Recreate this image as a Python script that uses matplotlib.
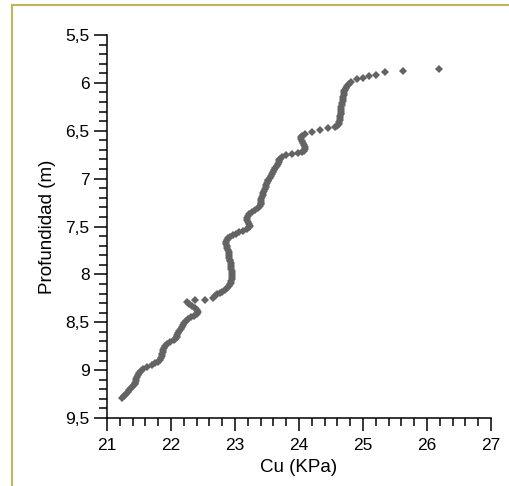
import matplotlib
matplotlib.use("Agg")
import matplotlib.pyplot as plt
from matplotlib.lines import Line2D
from matplotlib.ticker import MultipleLocator, FuncFormatter

plt.rcParams['font.family'] = ['Liberation Sans', 'DejaVu Sans']

# Cu (KPa) vs depth (m)
profundidad = [
    5.855, 5.873, 5.890, 5.915, 5.928, 5.946, 5.963, 5.988,
    6.01, 6.03, 6.05, 6.07, 6.09, 6.11, 6.13, 6.15, 6.17, 6.19, 6.21, 6.23,
    6.25, 6.27, 6.29, 6.31, 6.33, 6.35, 6.37, 6.39, 6.41, 6.43, 6.45,
    6.46, 6.475, 6.49, 6.51, 6.53, 6.55, 6.57, 6.59, 6.61, 6.63, 6.65, 6.67,
    6.69, 6.71, 6.725, 6.735, 6.745, 6.755, 6.77, 6.79, 6.81, 6.83, 6.85,
    6.87, 6.89, 6.91, 6.93, 6.95, 6.97, 6.99, 7.01, 7.03, 7.05, 7.07, 7.09,
    7.11, 7.13, 7.15, 7.17, 7.19, 7.21, 7.23, 7.25, 7.27, 7.29,
    7.31, 7.33, 7.35, 7.37, 7.39, 7.41, 7.43, 7.45, 7.47, 7.49, 7.51, 7.53,
    7.545, 7.56, 7.575, 7.59, 7.605, 7.625, 7.645, 7.665, 7.685, 7.705,
    7.725, 7.745, 7.765, 7.785, 7.805, 7.825, 7.845, 7.865, 7.885, 7.905,
    7.925, 7.945, 7.965, 7.985, 8.005, 8.025, 8.045, 8.065, 8.085, 8.105,
    8.125, 8.145, 8.165, 8.18, 8.195, 8.21, 8.225, 8.245,
    8.268, 8.268, 8.292,
    8.31, 8.33, 8.35, 8.37, 8.39, 8.41, 8.43, 8.45, 8.47, 8.49, 8.51, 8.53,
    8.55, 8.57, 8.59, 8.61, 8.63, 8.65, 8.67, 8.69, 8.71, 8.73, 8.75, 8.77,
    8.79, 8.81, 8.83, 8.85, 8.87, 8.89, 8.91, 8.93, 8.95, 8.97, 8.99, 9.01,
    9.03, 9.05, 9.07, 9.09, 9.11, 9.13, 9.15, 9.17, 9.19, 9.21, 9.23, 9.25,
    9.27, 9.29,
]
cu = [
    26.19, 25.63, 25.34, 25.21, 25.09, 25.00, 24.90, 24.82,
    24.78, 24.75, 24.73, 24.72, 24.71, 24.70, 24.70, 24.69, 24.69, 24.68, 24.67, 24.67,
    24.66, 24.66, 24.65, 24.65, 24.65, 24.64, 24.64, 24.64, 24.63, 24.62, 24.60,
    24.57, 24.46, 24.33, 24.20, 24.10, 24.05, 24.03, 24.03, 24.04, 24.06, 24.08, 24.09,
    24.09, 24.08, 24.04, 23.98, 23.89, 23.79, 23.73, 23.70, 23.69, 23.68, 23.67,
    23.65, 23.63, 23.61, 23.60, 23.58, 23.56, 23.54, 23.52, 23.51, 23.50, 23.49, 23.48,
    23.47, 23.45, 23.44, 23.43, 23.42, 23.41, 23.41, 23.40, 23.40, 23.39,
    23.36, 23.31, 23.26, 23.22, 23.20, 23.19, 23.19, 23.20, 23.22, 23.23, 23.22, 23.18,
    23.13, 23.07, 23.02, 22.97, 22.92, 22.89, 22.87, 22.86, 22.86, 22.87,
    22.88, 22.89, 22.90, 22.90, 22.91, 22.91, 22.92, 22.92, 22.93, 22.93,
    22.94, 22.94, 22.95, 22.95, 22.95, 22.95, 22.95, 22.94, 22.93, 22.92,
    22.90, 22.88, 22.85, 22.80, 22.76, 22.72, 22.69, 22.66,
    22.53, 22.38, 22.25,
    22.28, 22.33, 22.38, 22.41, 22.42, 22.40, 22.36, 22.31, 22.27, 22.24, 22.21, 22.19,
    22.17, 22.15, 22.13, 22.11, 22.10, 22.09, 22.07, 22.04, 21.99, 21.94, 21.91, 21.89,
    21.88, 21.87, 21.86, 21.86, 21.85, 21.83, 21.79, 21.75, 21.70, 21.63, 21.57, 21.53,
    21.50, 21.48, 21.47, 21.46, 21.45, 21.44, 21.43, 21.41, 21.38, 21.35, 21.33, 21.30,
    21.27, 21.24,
]

fig = plt.figure(figsize=(5.1, 4.86), dpi=100)
ax = fig.add_axes([107 / 510, 1 - 418 / 486, 384 / 510, 383 / 486])

ax.plot(cu, profundidad, linestyle='none', marker='D', markersize=4.4,
        color='#636363', markeredgewidth=0)

ax.set_xlim(21, 27)
ax.set_ylim(9.5, 5.5)

ax.xaxis.set_major_locator(MultipleLocator(1))
ax.xaxis.set_minor_locator(MultipleLocator(0.2))
ax.yaxis.set_major_locator(MultipleLocator(0.5))
ax.yaxis.set_minor_locator(MultipleLocator(0.1))


def coma(v, pos):
    s = ('%g' % v)
    return s.replace('.', ',')


ax.xaxis.set_major_formatter(FuncFormatter(coma))
ax.yaxis.set_major_formatter(FuncFormatter(coma))

ax.tick_params(which='major', length=9.5, width=1.1, labelsize=12.5, direction='out')
ax.tick_params(which='minor', length=5.5, width=1.1, direction='out')
ax.tick_params(axis='x', which='major', pad=5)
ax.tick_params(axis='y', which='major', pad=3)

for s in ['top', 'right']:
    ax.spines[s].set_visible(False)
for s in ['left', 'bottom']:
    ax.spines[s].set_linewidth(1.1)

ax.set_xlabel('Cu (KPa)', fontsize=13.5, labelpad=4)
ax.set_ylabel('Profundidad (m)', fontsize=13.5, labelpad=7)

# olive frame on top and left edge of the figure
frame = '#c3b35a'
fig.add_artist(Line2D([12 / 510, 1], [1 - 5 / 486, 1 - 5 / 486], color=frame, lw=1.5,
                      transform=fig.transFigure))
fig.add_artist(Line2D([12 / 510, 12 / 510], [0, 1 - 5 / 486], color=frame, lw=1.5,
                      transform=fig.transFigure))

fig.savefig('out.png', dpi=100)
